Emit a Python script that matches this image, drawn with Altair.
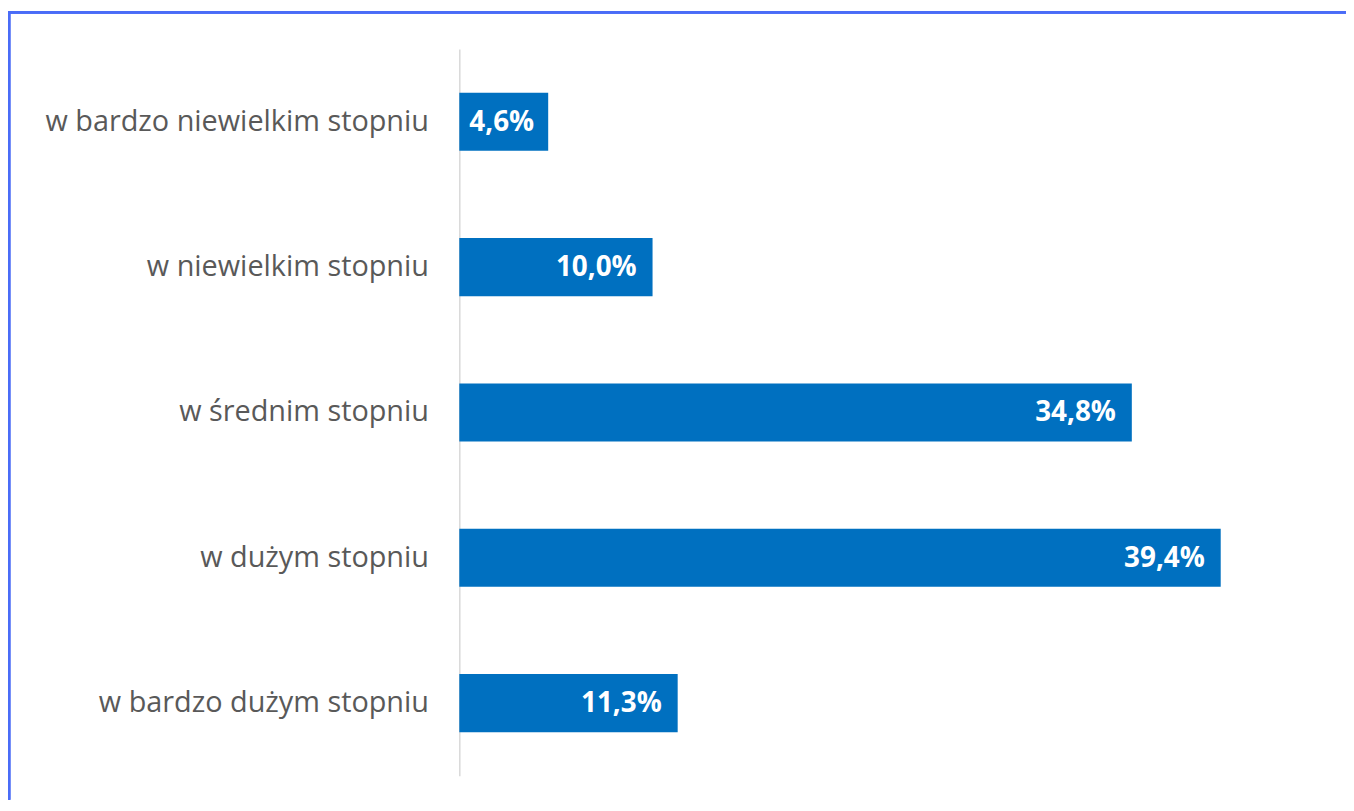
import altair as alt
import pandas as pd

categories = ["w bardzo niewielkim stopniu", "w niewielkim stopniu", "w średnim stopniu",
              "w dużym stopniu", "w bardzo dużym stopniu"]
values = [4.6, 10.0, 34.8, 39.4, 11.3]
labels = ["4,6%", "10,0%", "34,8%", "39,4%", "11,3%"]

df = pd.DataFrame({"cat": categories, "value": values, "label": labels})

W, H = 869, 731
PAD = {"left": 454, "top": 39, "right": 23, "bottom": 24}
XMAX = 44.7

y_enc = alt.Y("cat:N", sort=categories, title=None,
              scale=alt.Scale(paddingInner=0.6, paddingOuter=0.3),
              axis=alt.Axis(labelFont="Open Sans", labelFontSize=29, labelColor="#595959",
                            labelPadding=31, ticks=False, domainColor="#d9d9d9",
                            domainWidth=1.5, labelLimit=500))
x_enc = alt.X("value:Q", scale=alt.Scale(domain=[0, XMAX], nice=False), axis=None)

bars = alt.Chart(df).mark_bar(color="#0070c0").encode(x=x_enc, y=y_enc)

big = alt.Chart(df).transform_filter("datum.value >= 8").mark_text(
    align="right", baseline="middle", dx=-16, dy=1, font="Open Sans", fontSize=28,
    fontWeight="bold", color="white").encode(x=x_enc, y=y_enc, text="label:N")

small = alt.Chart(df).transform_filter("datum.value < 8").transform_calculate(
    mid="datum.value / 2").mark_text(
    align="center", baseline="middle", dx=-2, dy=1, font="Open Sans", fontSize=28,
    fontWeight="bold", color="white").encode(
        x=alt.X("mid:Q", scale=alt.Scale(domain=[0, XMAX], nice=False), axis=None),
        y=y_enc, text="label:N")

border_left = alt.Chart(df).mark_rule(color="#4a6cf7", strokeWidth=2.5, clip=False).encode(
    x=alt.value(-453), y=alt.value(-37), y2=alt.value(H + PAD["bottom"]))
border_top = alt.Chart(df).mark_rule(color="#4a6cf7", strokeWidth=2.5, clip=False).encode(
    x=alt.value(-454), x2=alt.value(W + PAD["right"]), y=alt.value(-37))

chart = alt.layer(bars, big, small, border_left, border_top).properties(
    width=W, height=H, padding=PAD,
    autosize=alt.AutoSizeParams(type="none")
).configure(background="white").configure_view(stroke=None, strokeWidth=0)

chart.save("out.html", embed_options={"renderer": "svg", "actions": False})
